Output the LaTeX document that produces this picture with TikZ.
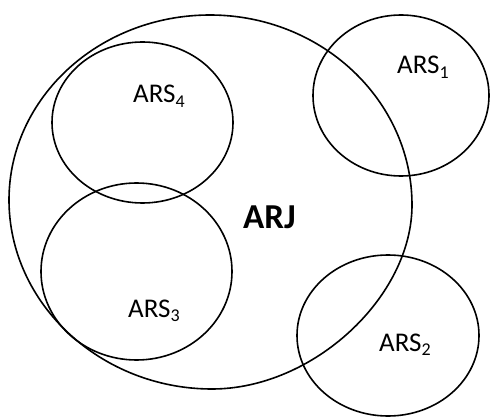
\documentclass[tikz,border=0pt]{standalone}
\usepackage{fontspec}
\setmainfont{Carlito}
\usetikzlibrary{shapes.geometric}
\newcommand\lowidx[1]{\raisebox{-0.16em}{\fontsize{18}{18}\selectfont #1}}
\tikzset{
  set/.style={draw, ellipse, line width=1.6pt, inner sep=0pt},
  lbl/.style={anchor=base west, inner sep=0pt, font=\fontsize{27}{30}\selectfont},
  main/.style={anchor=base west, inner sep=0pt, font=\fontsize{35}{38}\selectfont\bfseries},
}
\begin{document}
\begin{tikzpicture}[x=1pt, y=-1pt]
\useasboundingbox (0,0) rectangle (490,417);

% outer set ARJ: four cubic arcs through its extreme points
\coordinate (jt) at (210,15);
\coordinate (jr) at (412,205);
\coordinate (jb) at (212,389);
\coordinate (jl) at (9,200);
\draw[line width=1.6pt]
  (jt) .. controls (321,15) and (412,100) .. (jr)
       .. controls (412,297) and (313,389) .. (jb)
       .. controls (101,389) and (9,304) .. (jl)
       .. controls (9,98) and (99,15) .. (jt) -- cycle;

% subsets
\node[set, minimum width=181pt, minimum height=161pt] (s4) at (142.5,122.5) {};
\node[set, minimum width=191pt, minimum height=177pt] (s3) at (136.5,271.5) {};
\node[set, minimum width=176pt, minimum height=161pt] (s1) at (401,95.5) {};
\node[set, minimum width=182pt, minimum height=161pt] (s2) at (388,335.5) {};

% labels
\node[main] (arj) at (243,228) {ARJ};
\node[lbl] (l4) at (133,103) {ARS\lowidx{4}};
\node[lbl] (l1) at (397,74) {ARS\lowidx{1}};
\node[lbl] (l3) at (128,317) {ARS\lowidx{3}};
\node[lbl] (l2) at (379,351) {ARS\lowidx{2}};
\end{tikzpicture}
\end{document}
